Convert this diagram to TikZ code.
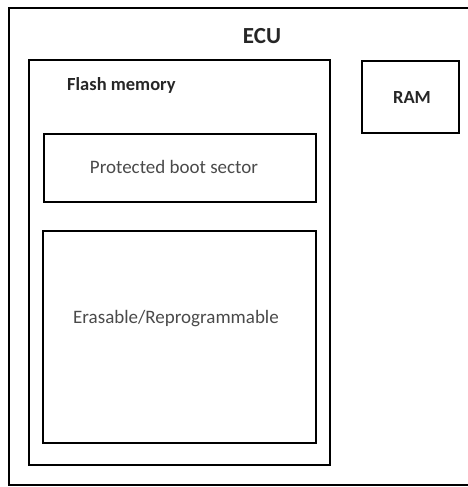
\documentclass[tikz,border=0pt]{standalone}
\usepackage{fontspec}
\setmainfont{Carlito}
\definecolor{txt}{HTML}{4A4A4A}
\definecolor{btxt}{HTML}{262626}
\tikzset{
  blk/.style={draw=black, line width=1.6pt},
  lbl/.style={text=txt, font=\fontsize{19}{22}\selectfont, inner sep=0pt},
  blbl/.style={text=btxt, inner sep=0pt, font=\fontsize{18.5}{22}\selectfont\bfseries}
}
\begin{document}
\begin{tikzpicture}[x=1pt,y=-1pt]
  \useasboundingbox (0,0) rectangle (467,487);
  % ECU enclosure, open past the right edge
  \draw[blk, line width=1.3pt] (469,8) -- (9,8) -- (9,485) -- (469,485);
  \node[blbl, font=\fontsize{23}{26}\selectfont\bfseries] (ecu) at (262,36) {ECU};
  % flash memory and its two regions
  \draw[blk] (29,60) rectangle (330,465);
  \node[blbl, anchor=west] (flash) at (67,85) {Flash memory};
  \draw[blk] (44,134) rectangle (316,202);
  \node[lbl] (boot) at (174,167) {Protected boot sector};
  \draw[blk] (43,231) rectangle (316,443);
  \node[lbl] (erase) at (176,319) {Erasable/Reprogrammable};
  % RAM
  \draw[blk] (362,61) rectangle (459,133);
  \node[blbl] (ram) at (412,98) {RAM};
\end{tikzpicture}
\end{document}
